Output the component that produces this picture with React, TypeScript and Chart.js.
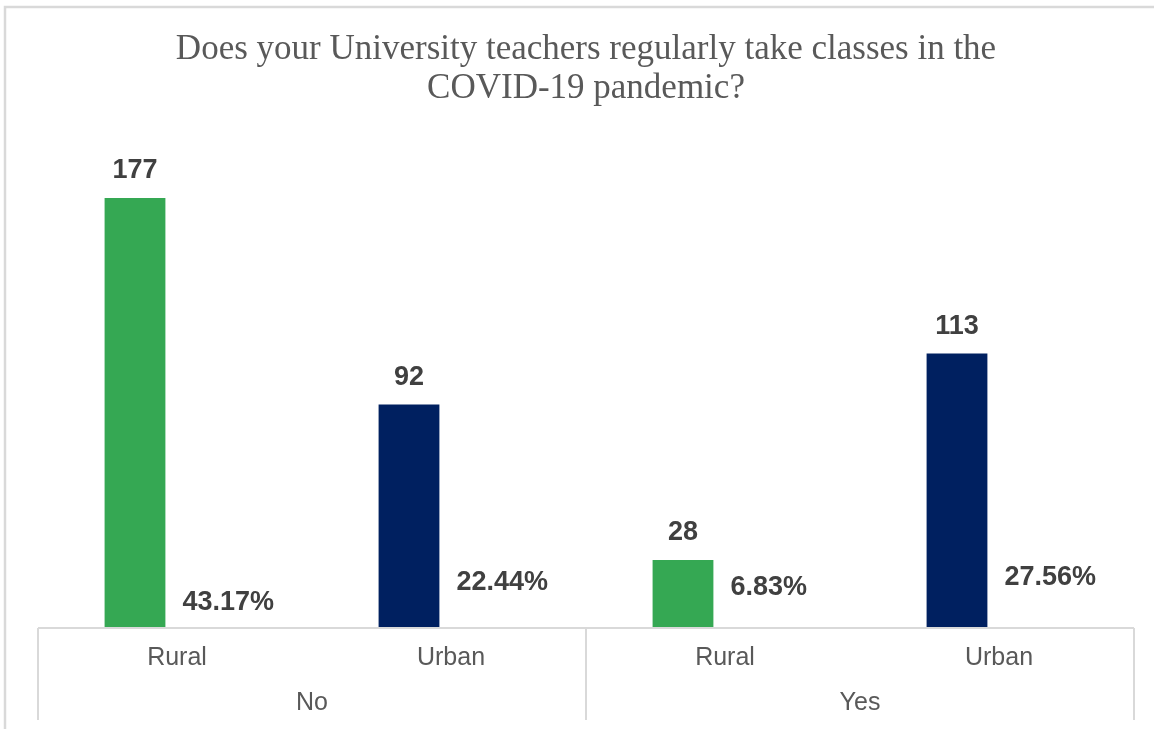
import React, { useEffect, useRef } from "react";
import { Chart, registerables } from "chart.js";

Chart.register(...registerables);

const TITLE_LINES = ["Does your University teachers regularly take classes in the", "COVID-19 pandemic?"];
const GROUPS = ["No", "Yes"];
const CATEGORIES = ["Rural", "Urban", "Rural", "Urban"];
const COUNTS = [177, 92, 28, 113];
const PERCENTS = [43.17, 22.44, 6.83, 27.56];
const GREEN = "#35A853";
const NAVY = "#002060";
const BAR_COLORS = [GREEN, NAVY, GREEN, NAVY];
// vertical lift (px above the axis) of each percentage label, as placed in the original
const PCT_LIFT = [25, 45, 40, 50];

const SANS = '"Liberation Sans", Arial, sans-serif';
const SERIF = '"Liberation Serif", "Times New Roman", serif';
const LINE = "#D9D9D9";

const decorPlugin = {
  id: "decor",
  afterDraw(chart: any) {
    const ctx = chart.ctx as CanvasRenderingContext2D;
    const area = chart.chartArea;
    const W = chart.width;
    const H = chart.height;
    ctx.save();
    // outer frame (cropped)
    ctx.strokeStyle = LINE;
    ctx.lineWidth = 2.5;
    ctx.beginPath();
    ctx.moveTo(W, 7);
    ctx.lineTo(5, 7);
    ctx.lineTo(5, H);
    ctx.stroke();

    // title
    ctx.fillStyle = "#595959";
    ctx.font = `35px ${SERIF}`;
    ctx.textAlign = "center";
    ctx.textBaseline = "middle";
    const cx = 586;
    TITLE_LINES.forEach((t, i) => ctx.fillText(t, cx, 50 + i * 39));

    // axis
    const base = area.bottom;
    const xs = chart.scales.x;
    const n = CATEGORIES.length;
    const catW = (area.right - area.left) / n;
    ctx.strokeStyle = LINE;
    ctx.lineWidth = 2;
    ctx.beginPath();
    ctx.moveTo(area.left, base);
    ctx.lineTo(area.right, base);
    const per = n / GROUPS.length;
    for (let g = 0; g <= GROUPS.length; g++) {
      const x = area.left + g * per * catW;
      ctx.moveTo(x, base);
      ctx.lineTo(x, base + 92);
    }
    ctx.stroke();

    ctx.fillStyle = "#595959";
    ctx.font = `25px ${SANS}`;
    ctx.textAlign = "center";
    ctx.textBaseline = "middle";
    CATEGORIES.forEach((c, i) => {
      ctx.fillText(c, xs.getPixelForValue(i) + 2, base + 30);
    });
    GROUPS.forEach((g, gi) => {
      const x = area.left + (gi + 0.5) * per * catW;
      ctx.fillText(g, x, base + 75);
    });

    // data labels
    const m0 = chart.getDatasetMeta(0);
    const m1 = chart.getDatasetMeta(1);
    ctx.fillStyle = "#404040";
    ctx.font = `bold 27px ${SANS}`;
    m0.data.forEach((bar: any, i: number) => {
      ctx.textAlign = "center";
      ctx.fillText(String(COUNTS[i]), bar.x, bar.y - 27);
    });
    m1.data.forEach((_bar: any, i: number) => {
      const b0 = m0.data[i] as any;
      ctx.textAlign = "left";
      ctx.fillText(PERCENTS[i].toFixed(2) + "%", b0.x + b0.width / 2 + 17, base - PCT_LIFT[i]);
    });
    ctx.restore();
  },
};

export default function App() {
  const ref = useRef<HTMLCanvasElement>(null);
  useEffect(() => {
    document.body.style.margin = "0";
    const chart = new Chart(ref.current!, {
      type: "bar",
      data: {
        labels: CATEGORIES.map((c, i) => `${GROUPS[Math.floor(i / 2)]} ${c}`),
        datasets: [
          {
            label: "Count",
            data: COUNTS,
            backgroundColor: BAR_COLORS,
            yAxisID: "y",
          },
          {
            label: "Percent",
            data: PERCENTS,
            backgroundColor: "rgba(0,0,0,0)",
            yAxisID: "yp",
          },
        ],
      },
      options: {
        responsive: false,
        animation: false,
        events: [],
        layout: { padding: { left: 38, right: 20, top: 142, bottom: 101 } },
        datasets: { bar: { categoryPercentage: 0.584, barPercentage: 0.76 } },
        plugins: { legend: { display: false }, tooltip: { enabled: false }, title: { display: false } },
        scales: {
          x: { display: false },
          y: { display: false, min: 0, max: 200 },
          yp: { display: false, min: 0, max: 100 },
        },
      },
      plugins: [decorPlugin],
    });
    return () => chart.destroy();
  }, []);
  return <canvas ref={ref} width={1154} height={729} style={{ display: "block" }} />;
}
